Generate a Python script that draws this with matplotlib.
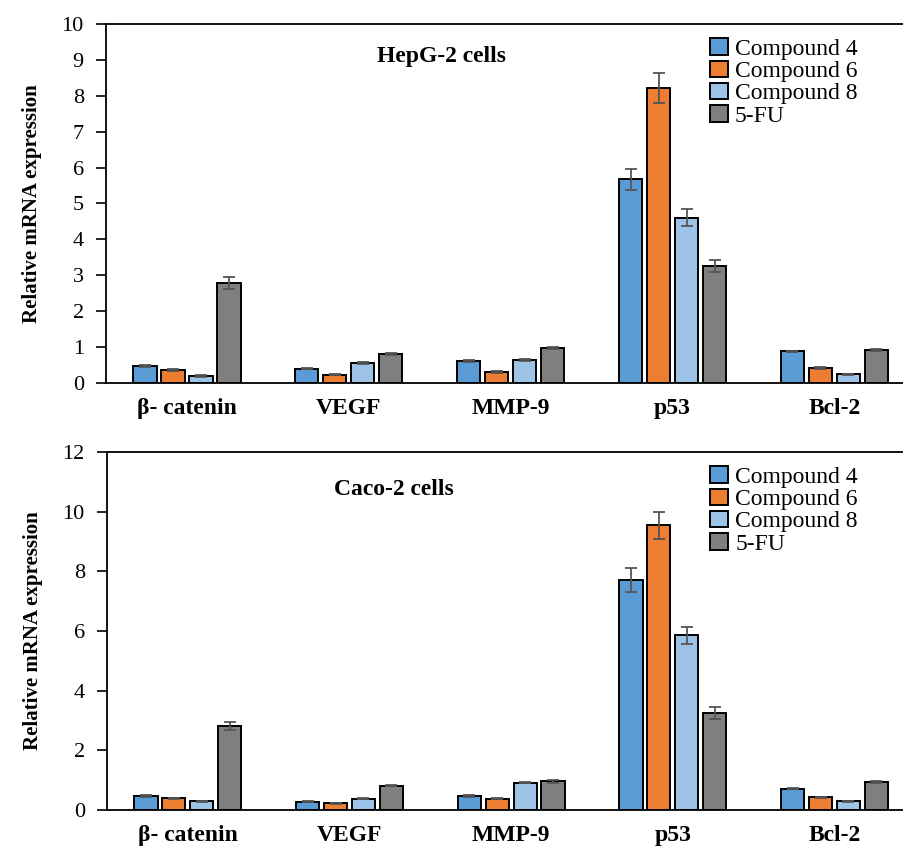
import numpy as np
from matplotlib import pyplot as plt

plt.rcParams['font.family'] = ['Liberation Serif', 'DejaVu Serif']

genes = ['β- catenin', 'VEGF', 'MMP-9', 'p53', 'Bcl-2']
series = ['Compound 4', 'Compound 6', 'Compound 8', '5-FU']
colors = ['#5B9BD5', '#ED7D31', '#9DC3E6', '#7F7F7F']

# HepG-2 cells
hepg2 = [
    [0.47, 0.40, 0.61, 5.67, 0.88],
    [0.36, 0.23, 0.31, 8.22, 0.42],
    [0.20, 0.56, 0.64, 4.60, 0.24],
    [2.78, 0.80, 0.97, 3.26, 0.92],
]
hepg2_err = [
    [0.02, 0.02, 0.03, 0.30, 0.02],
    [0.02, 0.02, 0.02, 0.41, 0.02],
    [0.02, 0.02, 0.03, 0.24, 0.02],
    [0.17, 0.03, 0.03, 0.17, 0.03],
]

# Caco-2 cells
caco2 = [
    [0.47, 0.28, 0.47, 7.70, 0.72],
    [0.39, 0.22, 0.38, 9.54, 0.42],
    [0.29, 0.38, 0.92, 5.86, 0.29],
    [2.82, 0.81, 0.96, 3.24, 0.93],
]
caco2_err = [
    [0.02, 0.02, 0.03, 0.40, 0.03],
    [0.02, 0.02, 0.02, 0.45, 0.02],
    [0.02, 0.02, 0.02, 0.29, 0.02],
    [0.13, 0.02, 0.04, 0.20, 0.03],
]


def draw_panel(ax, values, errors, title, ymax, ystep, title_x, title_y):
    x = np.arange(len(genes))
    step = 0.173
    width = 0.144
    for i, name in enumerate(series):
        ax.bar(x + (i - 1.5) * step, values[i], width, yerr=errors[i],
               color=colors[i], edgecolor='black', linewidth=1.4,
               label=name, capsize=4,
               error_kw={'ecolor': '#555555', 'elinewidth': 1.3, 'capthick': 1.3})

    ax.set_xlim(-0.5, 4.43)
    ax.set_ylim(0, ymax)
    ax.set_yticks(np.arange(0, ymax + 0.1, ystep))
    ax.set_xticks(x)
    ax.set_xticklabels(genes, fontweight='bold', fontsize=17)
    ax.tick_params(axis='x', length=0, pad=11)
    ax.tick_params(axis='y', direction='out', length=7, width=1.2, labelsize=16, pad=9)
    ax.spines['right'].set_visible(False)
    for s in ['left', 'bottom', 'top']:
        ax.spines[s].set_linewidth(1.3)
    ax.set_ylabel('Relative mRNA expression', fontweight='bold', fontsize=15, labelpad=14)
    ax.text(title_x, title_y, title, transform=ax.transAxes, ha='center', va='center',
            fontweight='bold', fontsize=17)
    ax.legend(loc='upper left', bbox_to_anchor=(0.757, 0.96), frameon=False,
              fontsize=17, handlelength=0.75, handleheight=0.7, handletextpad=0.3,
              labelspacing=0.03, borderpad=0, borderaxespad=0)


fig = plt.figure(figsize=(9.04, 8.48), dpi=100)
ax1 = fig.add_axes([106 / 904, 1 - 383 / 848, (904 - 106) / 904, (383 - 24) / 848])
ax2 = fig.add_axes([107 / 904, 1 - 810 / 848, (904 - 107) / 904, (810 - 452) / 848])

draw_panel(ax1, hepg2, hepg2_err, 'HepG-2 cells', 10, 1, 0.42, 0.91)
draw_panel(ax2, caco2, caco2_err, 'Caco-2 cells', 12, 2, 0.36, 0.895)

fig.savefig('out.png', dpi=100)
